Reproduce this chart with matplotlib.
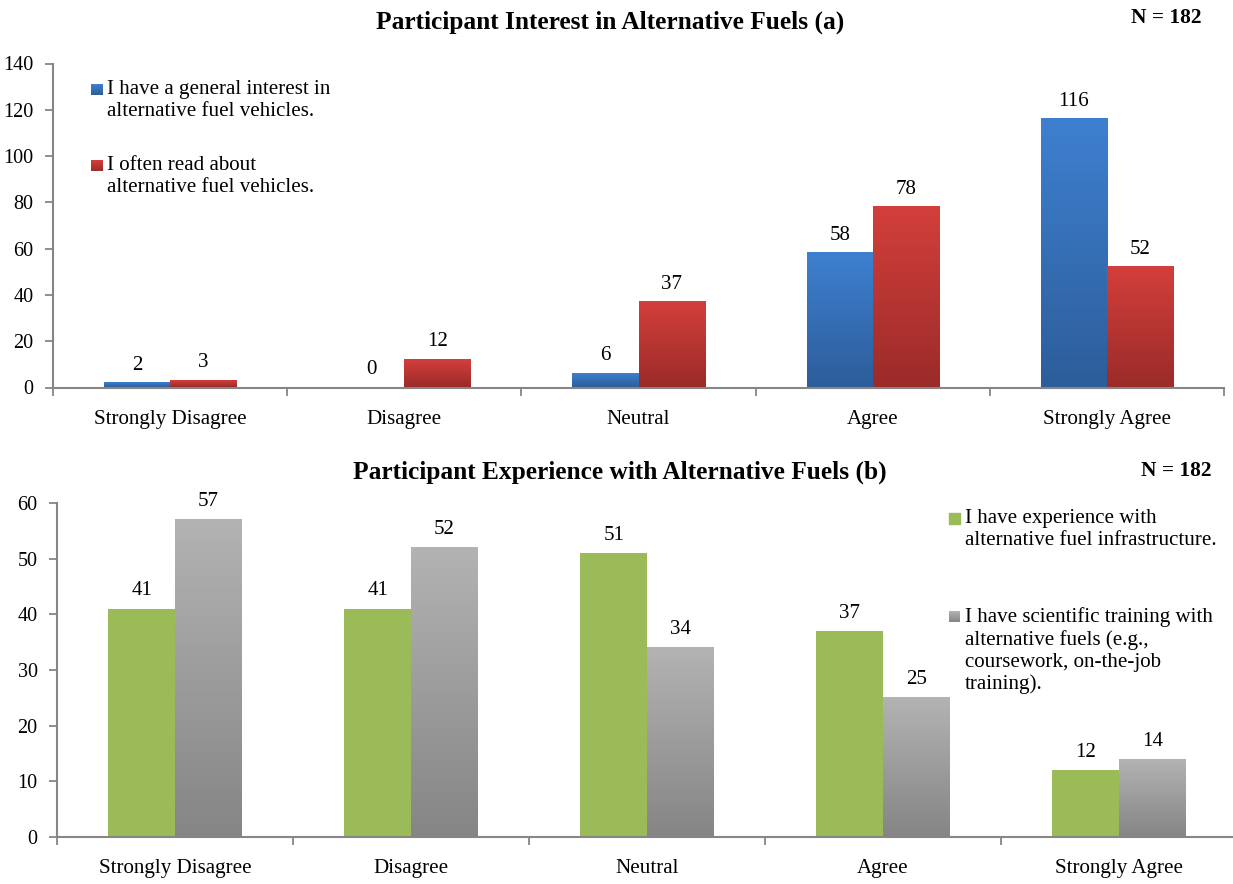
import numpy as np
import matplotlib
matplotlib.use("Agg")
import matplotlib.pyplot as plt
from matplotlib.colors import LinearSegmentedColormap
from matplotlib.patches import Rectangle

plt.rcParams['font.family'] = ['Liberation Serif', 'DejaVu Serif']

categories = ["Strongly Disagree", "Disagree", "Neutral", "Agree", "Strongly Agree"]

interest_general = [2, 0, 6, 58, 116]
interest_read = [3, 12, 37, 78, 52]

experience_infra = [41, 41, 51, 37, 12]
experience_training = [57, 52, 34, 25, 14]

label_a1 = "I have a general interest in\nalternative fuel vehicles."
label_a2 = "I often read about\nalternative fuel vehicles."
label_b1 = "I have experience with\nalternative fuel infrastructure."
label_b2 = "I have scientific training with\nalternative fuels (e.g.,\ncoursework, on-the-job\ntraining)."

title_a = "Participant Interest in Alternative Fuels (a)"
title_b = "Participant Experience with Alternative Fuels (b)"
n_text = "N = 182"

W, H = 1233, 884
fig = plt.figure(figsize=(W / 100, H / 100), dpi=100)

AXIS_GRAY = "#868686"
TICK_FS = 14.5
FS = 15.1
TITLE_FS = 18.3
N_FS = 15.4


def fx(px):
    return px / W


def fy(py):
    return 1 - py / H


def gradient_bar(ax, x0, width, height, top, bottom):
    if height <= 0:
        return
    cmap = LinearSegmentedColormap.from_list("g", [bottom, top])
    grad = np.linspace(0, 1, 256).reshape(-1, 1)
    ax.imshow(grad, cmap=cmap, origin="lower", aspect="auto",
              extent=[x0, x0 + width, 0, height], zorder=2, interpolation="bicubic")


def style_axes(ax, ymax, ystep):
    ax.set_xlim(0, 5)
    ax.set_ylim(0, ymax)
    ax.set_yticks(np.arange(0, ymax + 1, ystep))
    ax.set_xticks(np.arange(0, 6))
    ax.set_xticklabels([])
    ax.set_xticks(np.arange(0.5, 5), minor=True)
    ax.set_xticklabels(categories, minor=True, fontsize=FS)
    ax.tick_params(axis="x", which="minor", length=0, pad=16)
    ax.tick_params(axis="x", which="major", length=6, width=1.3, color=AXIS_GRAY, direction="out")
    ax.tick_params(axis="y", length=6, width=1.3, color=AXIS_GRAY, direction="out",
                   labelsize=TICK_FS, pad=8)
    for s in ["top", "right"]:
        ax.spines[s].set_visible(False)
    for s in ["left", "bottom"]:
        ax.spines[s].set_color(AXIS_GRAY)
        ax.spines[s].set_linewidth(1.5)
    ax.set_facecolor("none")


def draw_pair(ax, vals1, vals2, style1, style2, bw=0.282):
    for i, (v1, v2) in enumerate(zip(vals1, vals2)):
        c = i + 0.5
        for x0, v, st in ((c - bw, v1, style1), (c, v2, style2)):
            if isinstance(st, tuple):
                gradient_bar(ax, x0, bw, v, st[0], st[1])
            else:
                ax.bar(x0, v, width=bw, align="edge", color=st, zorder=2, linewidth=0)
            ax.annotate(str(v), (x0 + bw / 2, v), xytext=(0, 6), textcoords="offset points",
                        ha="center", va="bottom", fontsize=FS)


def legend_entry(x, y, color, text, top=None):
    sq = 11
    if top is None:
        fig.patches.append(Rectangle((fx(x), fy(y + sq)), sq / W, sq / H, color=color,
                                     transform=fig.transFigure, figure=fig))
    else:
        ax = fig.add_axes([fx(x), fy(y + sq), sq / W, sq / H])
        ax.axis("off")
        cmap = LinearSegmentedColormap.from_list("g", [color, top])
        ax.imshow(np.linspace(0, 1, 64).reshape(-1, 1), cmap=cmap, origin="lower",
                  aspect="auto", extent=[0, 1, 0, 1])
    fig.text(fx(x + 16), fy(y - 4), text, fontsize=FS, ha="left", va="top", linespacing=1.2)


BLUE = ("#3e80d0", "#2d5d9a")
RED = ("#d33f3b", "#9b2b29")
GRAY = ("#b3b3b3", "#858585")
GREEN = "#9bbb59"

# Panel (a)
ax1 = fig.add_axes([fx(53), fy(387.5), fx(1224 - 53), (387.5 - 63.5) / H])
draw_pair(ax1, interest_general, interest_read, BLUE, RED)
style_axes(ax1, 140, 20)
fig.text(fx(610), fy(22), title_a, fontsize=TITLE_FS, fontweight="bold", ha="center", va="center")
fig.text(fx(1166), fy(18), n_text, fontsize=N_FS, fontweight="bold", ha="center", va="center")
legend_entry(91, 84, BLUE[1], label_a1, top=BLUE[0])
legend_entry(91, 160, RED[1], label_a2, top=RED[0])

# Panel (b)
ax2 = fig.add_axes([fx(57), fy(837), fx(57 + 5 * 236) - fx(57), (837 - 503) / H])
draw_pair(ax2, experience_infra, experience_training, GREEN, GRAY)
style_axes(ax2, 60, 10)
fig.text(fx(620), fy(472), title_b, fontsize=TITLE_FS, fontweight="bold", ha="center", va="center")
fig.text(fx(1176), fy(471), n_text, fontsize=N_FS, fontweight="bold", ha="center", va="center")
legend_entry(949, 513, GREEN, label_b1)
legend_entry(949, 611, GRAY[1], label_b2, top=GRAY[0])

fig.savefig("out.png", dpi=100)
